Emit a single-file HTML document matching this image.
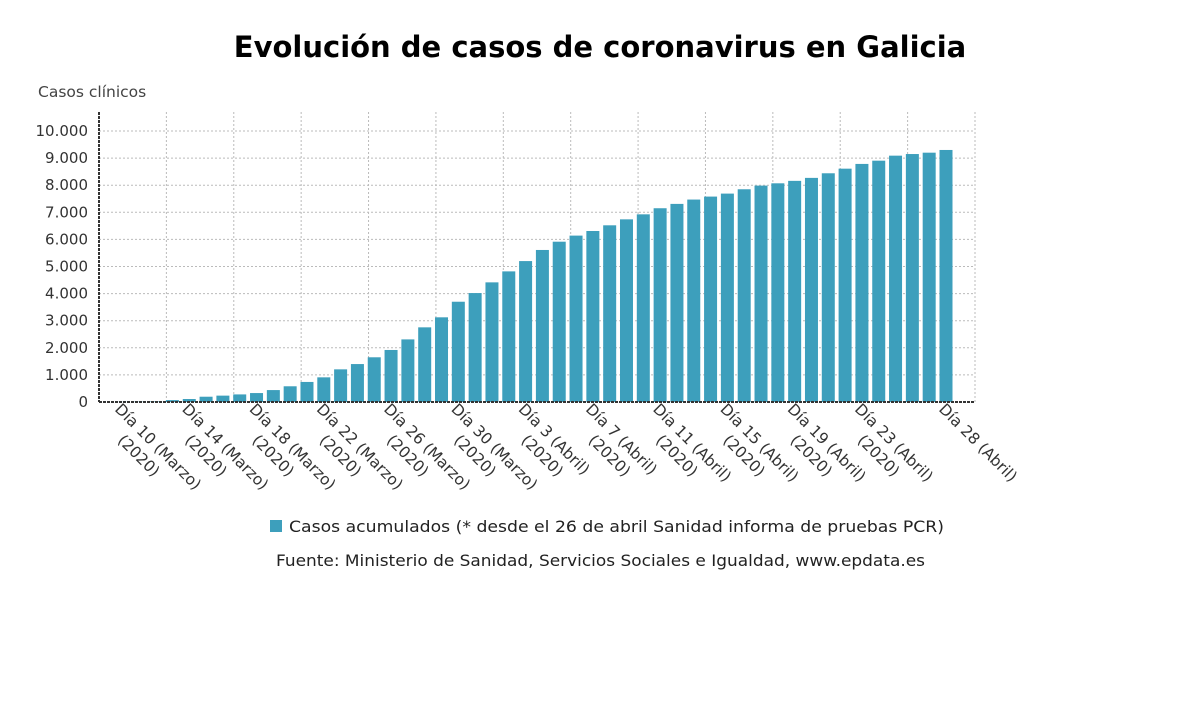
<!DOCTYPE html>
<html><head><meta charset="utf-8"><style>
body{margin:0;background:#fff;}
svg{display:block;font-family:"DejaVu Sans","Liberation Sans",sans-serif;}
</style></head><body>
<svg width="1200" height="705" viewBox="0 0 1200 705">
<text x="600" y="57" text-anchor="middle" font-size="29" font-weight="bold" fill="#000">Evolución de casos de coronavirus en Galicia</text>
<text x="38" y="97" font-size="15.5" fill="#444">Casos clínicos</text>
<g id="grid"></g><g id="bars"></g><g id="axes"></g>
<rect x="270" y="520" width="12" height="12" fill="#3d9fbc"/>
<text x="289" y="532" font-size="16" fill="#222" textLength="655" lengthAdjust="spacingAndGlyphs">Casos acumulados (* desde el 26 de abril Sanidad informa de pruebas PCR)</text>
<text x="276" y="566" font-size="16" fill="#222" textLength="649" lengthAdjust="spacingAndGlyphs">Fuente: Ministerio de Sanidad, Servicios Sociales e Igualdad, www.epdata.es</text>
</svg>
<script>
const values=[5,10,18,70,110,195,235,280,330,440,580,740,910,1205,1400,1650,1920,2310,2755,3125,3700,4020,4415,4820,5200,5610,5915,6140,6310,6520,6740,6925,7150,7310,7470,7580,7690,7850,7985,8070,8160,8270,8440,8610,8785,8905,9090,9150,9200,9300];
const yTicks=[0,1000,2000,3000,4000,5000,6000,7000,8000,9000,10000];
const yTickLabels=["0","1.000","2.000","3.000","4.000","5.000","6.000","7.000","8.000","9.000","10.000"];
const xLabelIdx=[0,4,8,12,16,20,24,28,32,36,40,44,49];
const xLabels=[["Día 10 (Marzo)","(2020)"],["Día 14 (Marzo)","(2020)"],["Día 18 (Marzo)","(2020)"],["Día 22 (Marzo)","(2020)"],["Día 26 (Marzo)","(2020)"],["Día 30 (Marzo)","(2020)"],["Día 3 (Abril)","(2020)"],["Día 7 (Abril)","(2020)"],["Día 11 (Abril)","(2020)"],["Día 15 (Abril)","(2020)"],["Día 19 (Abril)","(2020)"],["Día 23 (Abril)","(2020)"],["Día 28 (Abril)",""]];
const NS="http://www.w3.org/2000/svg";
const X0=99,X1=975,Y0=402,Y1=131;
const y=v=>Y0-(v/10000)*(Y0-Y1);
const step=(946-122)/(values.length-1);
const x=i=>122+i*step;
function mk(t,a,p){const e=document.createElementNS(NS,t);for(const k in a)e.setAttribute(k,a[k]);p.appendChild(e);return e;}
const grid=document.getElementById('grid'),bars=document.getElementById('bars'),axes=document.getElementById('axes');
yTicks.forEach((t,k)=>{
  if(t>0){const l=mk('line',{x1:X0,x2:X1,y1:y(t),y2:y(t),stroke:'#bbb','stroke-dasharray':'2,2'},grid);
  
  }
  const tx=mk('text',{x:88,y:y(t)+5,'text-anchor':'end','font-size':15,fill:'#333'},axes);
  tx.textContent=yTickLabels[k];
  
  
});
for(let g=1;g<=13;g++){const gx=X0+g*(X1-X0)/13;
  const l=mk('line',{x1:gx,x2:gx,y1:112,y2:Y0,stroke:'#bbb','stroke-dasharray':'2,2'},grid);
  
  }
values.forEach((v,i)=>{
  const r=mk('rect',{x:x(i)-6.5,y:y(v),width:13,height:Y0-y(v),fill:'#3d9fbc'},bars);
  
  
});
const ax=mk('line',{x1:X0,x2:X0,y1:112,y2:Y0,stroke:'#333','stroke-width':2,'stroke-dasharray':'3,1'},axes);


const bx=mk('line',{x1:X0,x2:X1,y1:Y0,y2:Y0,stroke:'#333','stroke-width':2,'stroke-dasharray':'3,1'},axes);


xLabelIdx.forEach((idx,k)=>{
  const px=x(idx),py=410;
  const t=mk('text',{transform:`translate(${px-8},${py}) rotate(45)`,'font-size':15.5,fill:'#333'},axes);
  
  
  const s1=mk('tspan',{x:0,y:0},t);s1.textContent=xLabels[k][0];
  if(xLabels[k][1]){const s2=mk('tspan',{x:24,y:20},t);s2.textContent=xLabels[k][1];}
});
</script>
</body></html>
